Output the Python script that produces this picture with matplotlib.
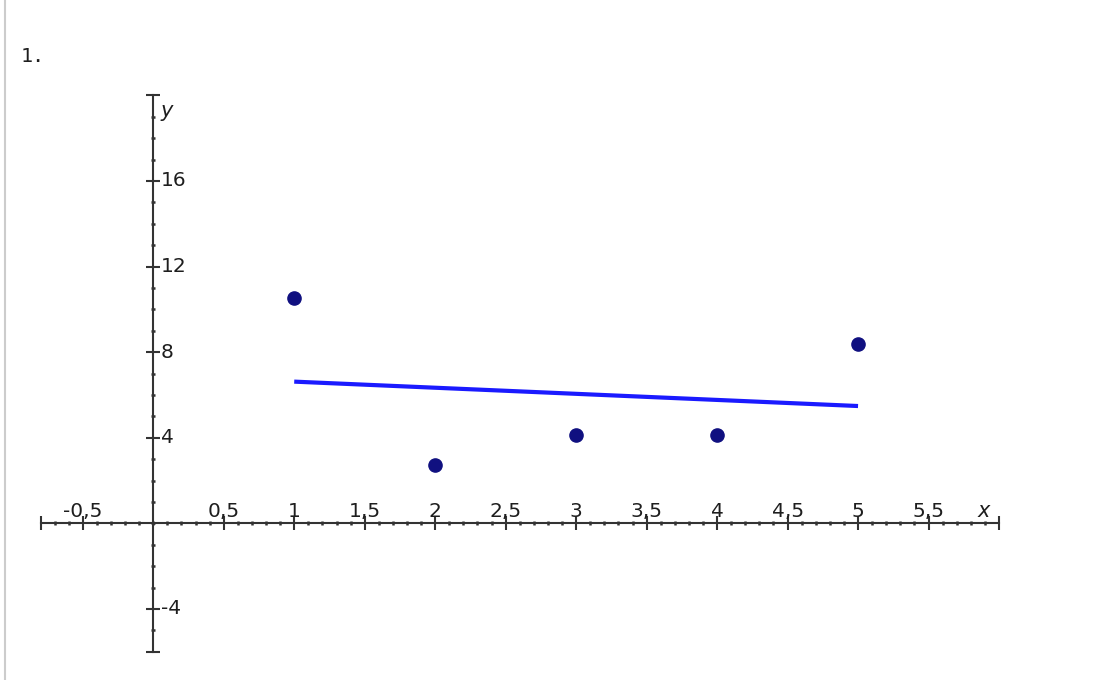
import matplotlib
matplotlib.use("Agg")
import matplotlib.pyplot as plt
import numpy as np
from matplotlib.lines import Line2D
from matplotlib.ticker import MultipleLocator, FixedLocator

# data
pts_x = [1, 2, 3, 4, 5]
pts_y = [10.55, 2.72, 4.12, 4.12, 8.4]
fit_x = [1, 5]
fit_y = [6.62, 5.48]

x_labels = [-0.5, 0.5, 1, 1.5, 2, 2.5, 3, 3.5, 4, 4.5, 5, 5.5]
y_labels = [-4, 4, 8, 12, 16]
xlim = (-0.8, 6.0)
ylim = (-6, 20)

W, H = 1096, 680
fig = plt.figure(figsize=(W / 100, H / 100), dpi=100)

# axes placement in pixels (left, right, top, bottom)
pl, pr, pt, pb = 40.5, 999.0, 95.3, 651.7
ax = fig.add_axes([pl / W, 1 - pb / H, (pr - pl) / W, (pb - pt) / H])
ax.set_xlim(*xlim)
ax.set_ylim(*ylim)

axcol = "#333333"
txtcol = "#1e1e1e"
for s in ["top", "right"]:
    ax.spines[s].set_visible(False)
for s in ["left", "bottom"]:
    ax.spines[s].set_position(("data", 0))
    ax.spines[s].set_color(axcol)
    ax.spines[s].set_linewidth(1.5)

ax.xaxis.set_major_locator(FixedLocator([xlim[0]] + x_labels + [xlim[1]]))
ax.xaxis.set_minor_locator(MultipleLocator(0.1))
ax.yaxis.set_major_locator(FixedLocator([ylim[0]] + y_labels + [ylim[1]]))
ax.yaxis.set_minor_locator(MultipleLocator(1))
ax.tick_params(which="major", direction="inout", length=10, width=1.5,
               color=axcol, labelbottom=False, labelleft=False)
ax.tick_params(which="minor", direction="inout", length=3.5, width=1.8,
               color=axcol)

def fmt(v):
    s = ("%g" % v).replace(".", ",")
    return s

for v in x_labels:
    ax.annotate(fmt(v), (v, 0), xytext=(0, 4.5), textcoords="offset points",
                ha="center", va="baseline", fontsize=14.5, color=txtcol)
for v in y_labels:
    ax.annotate(fmt(v), (0, v), xytext=(5.5, 0), textcoords="offset points",
                ha="left", va="center", fontsize=14.5, color=txtcol)

ax.annotate("x", (xlim[1], 0), xytext=(-11, 4.5), textcoords="offset points",
            ha="center", va="baseline", fontsize=15, style="italic", color=txtcol)
ax.annotate("y", (0, ylim[1]), xytext=(5, -4), textcoords="offset points",
            ha="left", va="top", fontsize=15, style="italic", color=txtcol)

ax.plot(fit_x, fit_y, color="#1a1aff", lw=3, solid_capstyle="butt", zorder=3)
ax.plot(pts_x, pts_y, "o", color="#101080", ms=9.5, zorder=4)

fig.text(21 / W, 1 - 56 / H, "1.", family="DejaVu Sans Mono", fontsize=14.5,
         va="center", ha="left", color=txtcol)
fig.add_artist(Line2D([5 / W, 5 / W], [0, 1], color="#cccccc", lw=1.5))

fig.savefig("out.png", dpi=100)
